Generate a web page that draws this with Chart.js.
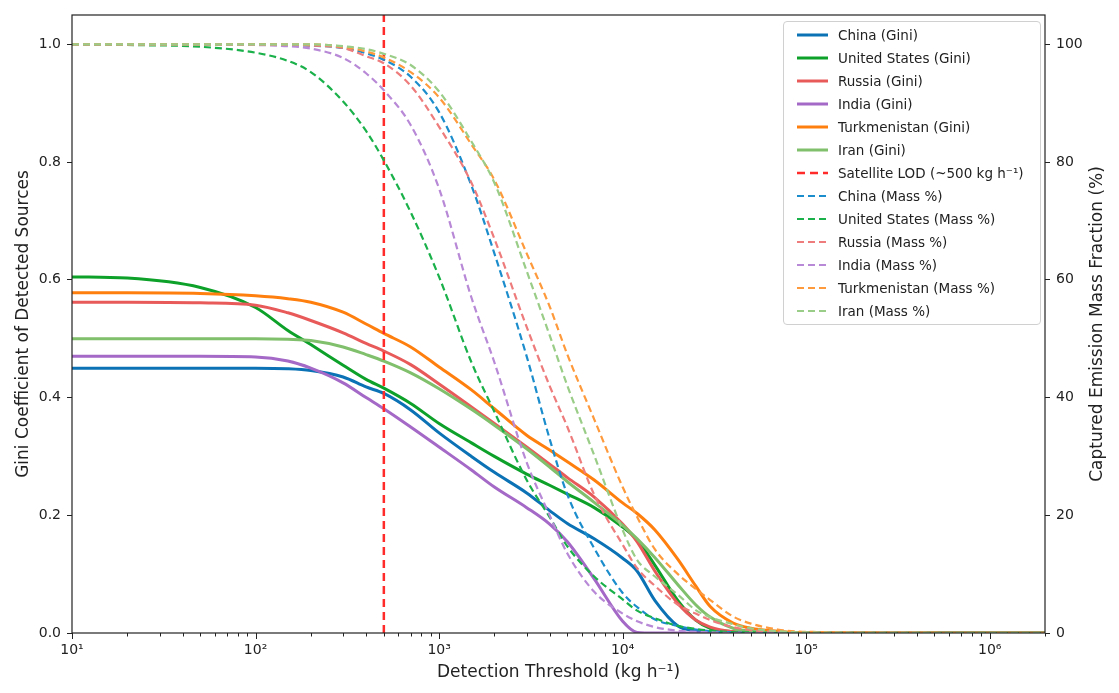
<!DOCTYPE html>
<html>
<head>
<meta charset="utf-8">
<title>Gini vs detection threshold</title>
<script src="https://cdn.jsdelivr.net/npm/chart.js"></script>
<style>
  body { margin: 0; background: #fff; font-family: "DejaVu Sans", sans-serif; }
  #wrap { position: relative; width: 1119px; height: 693px; }
  #legend { position: absolute; left: 783px; top: 21px; width: 256px; padding: 1px 0 2px 0;
            border: 1px solid #d0d0d0; border-radius: 4px; background: rgba(255,255,255,0.85);
            font-size: 13.5px; color: #222; }
  .row { height: 23px; display: flex; align-items: center; padding-left: 13px; }
  .row svg { margin-right: 10px; }
</style>
</head>
<body>
<div id="wrap">
  <canvas id="chart" width="1119" height="693"></canvas>
  <div id="legend"></div>
</div>
<script>
// detection thresholds (kg/h)
const thresholds = [10, 20, 50, 100, 150, 200, 300, 400, 500, 700, 1000, 1500, 2000, 3000, 4000, 5000,
  7000, 10000, 12000, 15000, 20000, 25000, 30000, 40000, 50000, 70000, 100000, 1000000, 2000000];

// Gini coefficient of detected sources
const chinaGini = [0.450,0.450,0.450,0.450,0.449,0.446,0.435,0.418,0.407,0.379,0.340,0.300,0.273,0.238,0.208,0.186,0.160,0.127,0.105,0.055,0.012,0.004,0.001,0,0,0,0,0,0];
const usGini    = [0.605,0.603,0.587,0.553,0.514,0.490,0.455,0.431,0.416,0.390,0.356,0.323,0.300,0.270,0.251,0.236,0.213,0.180,0.158,0.115,0.055,0.022,0.008,0.002,0,0,0,0,0];
const russiaGini = [0.562,0.562,0.561,0.557,0.544,0.531,0.510,0.492,0.479,0.456,0.423,0.384,0.356,0.316,0.287,0.264,0.231,0.185,0.155,0.105,0.050,0.022,0.010,0.002,0,0,0,0,0];
const indiaGini = [0.470,0.470,0.470,0.469,0.462,0.450,0.425,0.400,0.381,0.350,0.316,0.277,0.248,0.213,0.185,0.155,0.092,0.020,0.001,0,0,0,0,0,0,0,0,0,0];
const turkGini  = [0.578,0.578,0.577,0.573,0.568,0.562,0.545,0.525,0.509,0.486,0.452,0.413,0.381,0.336,0.311,0.291,0.260,0.221,0.203,0.175,0.125,0.080,0.045,0.017,0.008,0.003,0,0,0];
const iranGini  = [0.500,0.500,0.500,0.500,0.499,0.497,0.486,0.473,0.462,0.442,0.415,0.380,0.353,0.313,0.282,0.257,0.222,0.183,0.160,0.128,0.082,0.048,0.027,0.008,0.003,0,0,0,0];

// captured emission mass fraction (%)
const chinaMass = [100,100,100,100,99.9,99.8,99.4,98.5,97.4,94.5,88.5,76,64.5,47,33,23.5,14.4,6.8,4.4,2.3,1.2,0.6,0.3,0.1,0,0,0,0,0];
const usMass    = [100,99.9,99.6,98.6,97.2,95.3,90.3,85.3,80.3,71.5,60.5,46,37.6,26,19.7,14.7,9.6,5.7,3.8,2.5,1.2,0.7,0.4,0.15,0.1,0,0,0,0];
const russiaMass = [100,100,100,100,100,99.8,99.4,98,96.8,93,86,76.5,67,52,42,35,23.5,15,11,8,4.8,3.3,2.2,1,0.5,0.2,0.1,0,0];
const indiaMass = [100,100,100,99.9,99.7,99.3,97.7,95.1,92.2,86.3,75.5,57,46,29,20,13.5,7,3.3,2,1,0.4,0.2,0.1,0,0,0,0,0,0];
const turkMass  = [100,100,100,100,100,100,99.6,98.8,97.8,95.3,91,83,77,64.5,55.5,47.3,36.3,24.8,19.7,14.2,10,7.5,5.6,2.8,1.6,0.6,0.2,0,0];
const iranMass  = [100,100,100,100,100,100,99.7,99.2,98.4,96.5,92,83.5,76.5,61.5,50.6,42,30.2,17.5,12.4,9.6,6.5,3.9,2.7,1.5,0.8,0.3,0.1,0,0];

const satelliteLOD = 500;

const countries = ['China', 'United States', 'Russia', 'India', 'Turkmenistan', 'Iran'];
const giniSeries = [chinaGini, usGini, russiaGini, indiaGini, turkGini, iranGini];
const massSeries = [chinaMass, usMass, russiaMass, indiaMass, turkMass, iranMass];
const solidColors = ['#0b72b5', '#0ea12a', '#e85a5a', '#a468c6', '#ff7f0e', '#80bf6b'];
const dashColors  = ['#1b8ccc', '#1ab04a', '#ee7c7c', '#b889d6', '#ff9a3c', '#9acd87'];

function pts(arr) { return thresholds.map((t, i) => ({ x: t, y: arr[i] })); }

const datasets = [];
let seq = 0;
countries.forEach((c, i) => {
  datasets.push({
    label: c + ' (Gini)', data: pts(giniSeries[i]), yAxisID: 'y',
    borderColor: solidColors[i], borderWidth: 3, pointRadius: 0,
    cubicInterpolationMode: 'monotone', fill: false, order: 100 - (seq++)
  });
});
datasets.push({
  label: 'Satellite LOD (~500 kg h\u207B\u00B9)', data: [{ x: satelliteLOD, y: 0 }, { x: satelliteLOD, y: 1.05 }],
  yAxisID: 'y', borderColor: '#ff2a2a', borderWidth: 2.5, borderDash: [8, 5], pointRadius: 0,
  tension: 0, fill: false, order: 100 - (seq++)
});
countries.forEach((c, i) => {
  datasets.push({
    label: c + ' (Mass %)', data: pts(massSeries[i]), yAxisID: 'y1',
    borderColor: dashColors[i], borderWidth: 2.2, borderDash: [7, 4], pointRadius: 0,
    cubicInterpolationMode: 'monotone', fill: false, order: 100 - (seq++)
  });
});

const sup = ['\u2070', '\u00B9', '\u00B2', '\u00B3', '\u2074', '\u2075', '\u2076'];

// frame, minor x ticks and right-hand title drawn by hand
const decor = {
  id: 'decor',
  afterDraw(chart) {
    const { ctx, chartArea: a } = chart;
    const xs = chart.scales.x;
    ctx.save();
    ctx.strokeStyle = '#222';
    ctx.lineWidth = 1;
    for (let e = 1; e <= 6; e++) {
      for (let m = 1; m <= 9; m++) {
        const v = m * Math.pow(10, e);
        if (v > 2e6) break;
        const px = Math.round(xs.getPixelForValue(v)) + 0.5;
        ctx.beginPath();
        ctx.moveTo(px, a.bottom);
        ctx.lineTo(px, a.bottom + (m === 1 ? 6 : 3.5));
        ctx.stroke();
      }
    }
    ctx.lineWidth = 1.2;
    ctx.strokeRect(a.left, a.top, a.right - a.left, a.bottom - a.top);
    ctx.translate(1098, (a.top + a.bottom) / 2);
    ctx.rotate(-Math.PI / 2);
    ctx.fillStyle = '#222';
    ctx.font = '17px "DejaVu Sans"';
    ctx.textAlign = 'center';
    ctx.textBaseline = 'middle';
    ctx.fillText('Captured Emission Mass Fraction (%)', 0, 0);
    ctx.restore();
  }
};

Chart.defaults.font.family = '"DejaVu Sans", sans-serif';
Chart.defaults.color = '#222';

new Chart(document.getElementById('chart'), {
  type: 'line',
  data: { datasets },
  options: {
    responsive: false,
    animation: false,
    devicePixelRatio: 1,
    layout: { padding: { top: 15, left: 0, right: 0, bottom: 0 } },
    plugins: { legend: { display: false }, tooltip: { enabled: false } },
    scales: {
      x: {
        type: 'logarithmic', position: 'bottom', min: 10, max: 2e6,
        border: { display: false },
        grid: { drawOnChartArea: false, drawTicks: true, tickLength: 6, tickColor: 'rgba(0,0,0,0)' },
        ticks: {
          autoSkip: false, maxRotation: 0, font: { size: 14 }, padding: 3,
          callback: v => {
            const e = Math.log10(v);
            return Math.abs(e - Math.round(e)) < 1e-9 ? '10' + sup[Math.round(e)] : '';
          }
        },
        title: { display: true, text: 'Detection Threshold (kg h\u207B\u00B9)', font: { size: 17 }, padding: { bottom: 10 } },
        afterFit: s => { s.height = 60; }
      },
      y: {
        position: 'left', min: 0, max: 1.05,
        border: { display: false },
        grid: { drawOnChartArea: false, tickLength: 5, tickColor: '#222' },
        ticks: { stepSize: 0.2, font: { size: 14 }, padding: 6, callback: v => v.toFixed(1) },
        afterBuildTicks: s => { s.ticks = s.ticks.filter(t => t.value <= 1.0001); },
        title: { display: true, text: 'Gini Coefficient of Detected Sources', font: { size: 17 }, padding: { top: 13 } },
        afterFit: s => { s.width = 72; }
      },
      y1: {
        position: 'right', min: 0, max: 105,
        border: { display: false },
        grid: { drawOnChartArea: false, tickLength: 5, tickColor: '#222' },
        ticks: { stepSize: 20, font: { size: 14 }, padding: 6 },
        afterBuildTicks: s => { s.ticks = s.ticks.filter(t => t.value <= 100.001); },
        afterFit: s => { s.width = 74; }
      }
    }
  },
  plugins: [decor]
});

// legend box in the top-right corner of the plot
const legend = document.getElementById('legend');
datasets.forEach(d => {
  const row = document.createElement('div');
  row.className = 'row';
  const dash = d.borderDash ? `stroke-dasharray="${d.borderDash.join(' ')}"` : '';
  row.innerHTML = `<svg width="31" height="8"><line x1="0" y1="4" x2="31" y2="4" stroke="${d.borderColor}" stroke-width="${d.borderWidth}" ${dash}/></svg><span>${d.label}</span>`;
  legend.appendChild(row);
});
</script>
</body>
</html>
